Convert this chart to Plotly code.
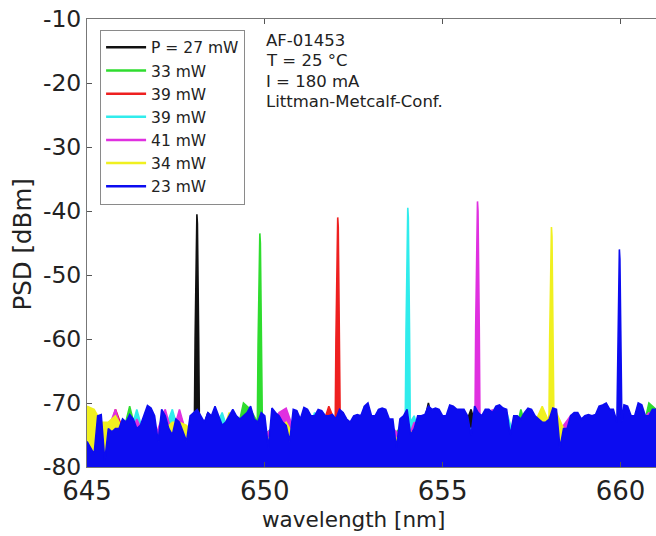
import plotly.graph_objects as go

# ---------------- data ----------------
WL_START = 645.0          # nm, first sample of every noise record
BLUE_STEP = 0.1           # nm, sample spacing of the 23 mW record
OTHER_STEP = 0.2          # nm, sample spacing of the other records

labels = ["P = 27 mW", "33 mW", "39 mW", "39 mW", "41 mW", "34 mW", "23 mW"]
colors = ["#111111", "#2fdc2f", "#ee2020", "#30ecec", "#e030e0", "#f0f020", "#0c0cf0"]

# noise floor of each record [dBm]
black_noise = [
    -76, -75, -74, -76, -75, -74, -76, -75, -74, -76,
    -75, -74, -76, -75, -74, -76, -75, -71.5, -76, -75,
    -74, -76, -75, -74, -76, -75, -74, -76, -75, -74,
    -76, -75, -74, -76, -75, -74, -71.5, -76, -75, -74,
    -76, -75, -74, -76, -75, -74, -76, -75, -70, -75,
    -74, -76, -75, -74, -71, -75, -74, -76, -75, -74,
    -76, -75, -74, -76, -75, -74, -76, -75, -74, -76,
    -75, -74, -76, -75, -71.5, -74, -76, -75, -74, -76,
    -75]
green_noise = [
    -75, -76, -74, -75, -76, -75, -70.5, -75, -76, -74,
    -75, -71.5, -76, -75, -74, -76, -75, -74, -76, -75,
    -74, -75, -70, -71, -76, -75, -74, -76, -75, -74,
    -76, -75, -74, -76, -75, -74, -76, -75, -74, -76,
    -75, -71, -76, -75, -74, -76, -75, -74, -76, -75,
    -74, -76, -75, -74, -76, -75, -74, -76, -75, -74,
    -76, -71, -75, -74, -76, -75, -74, -76, -75, -74,
    -76, -75, -71, -74, -76, -75, -74, -76, -75, -70,
    -71]
red_noise = [
    -76, -75, -74, -75, -71, -74, -76, -75, -74, -75,
    -76, -74, -75, -71.5, -75, -74, -76, -75, -74, -76,
    -75, -74, -76, -75, -74, -76, -75, -74, -76, -75,
    -74, -76, -75, -74, -70.5, -75, -71.5, -76, -75, -74,
    -76, -75, -74, -76, -75, -74, -76, -75, -74, -76,
    -75, -74, -76, -75, -74, -76, -75, -74, -76, -75,
    -74, -76, -75, -74, -76, -72, -75, -74, -76, -75,
    -72.5, -76, -75, -74, -76, -75, -74, -76, -75, -74,
    -76]
cyan_noise = [
    -75, -76, -74, -75, -76, -74, -75, -71, -75, -76,
    -75, -74, -71, -75, -76, -74, -75, -76, -74, -71.5,
    -75, -76, -74, -75, -76, -75, -74, -76, -75, -74,
    -76, -75, -71.5, -75, -74, -76, -75, -74, -76, -70.5,
    -74, -76, -75, -74, -76, -75, -72, -76, -75, -74,
    -76, -75, -74, -76, -74, -75, -76, -74, -75, -71.5,
    -75, -74, -71.5, -75, -76, -74, -75, -76, -74, -75,
    -76, -74, -75, -76, -74, -75, -76, -74, -75, -76,
    -74]
magenta_noise = [
    -75, -74, -75, -74, -71, -75, -76, -72.5, -75, -76,
    -74, -71, -75, -71, -75, -76, -73, -72.5, -75, -74,
    -75, -76, -75, -74, -76, -75, -74, -71.5, -70.8, -74,
    -76, -75, -74, -76, -75, -74, -75, -73, -72, -75,
    -74, -75, -76, -74, -75, -76, -73, -75, -74, -76,
    -75, -74, -76, -73, -75, -76, -74, -71, -75, -74,
    -76, -75, -74, -76, -75, -74, -76, -73.5, -72, -73,
    -75, -72, -76, -75, -74, -76, -75, -74, -73, -71.5,
    -75]
yellow_noise = [
    -70.5, -71, -73, -73, -72, -74, -75, -75, -74, -76,
    -75, -74, -73, -73, -73.5, -75, -76, -74, -72.5, -75,
    -71.5, -75, -76, -74, -75, -76, -75, -74, -73, -75,
    -76, -75, -74, -76, -75, -74, -75, -76, -75, -74,
    -76, -75, -74, -75, -76, -74, -75, -76, -75, -74,
    -76, -75, -74, -72.5, -75, -76, -75, -74, -76, -75,
    -75, -74, -76, -73, -70.5, -71, -71.5, -74, -75, -76,
    -75, -74, -76, -75, -74, -73, -75, -76, -75, -74,
    -75]
blue_noise = [
    -76, -77, -78, -72, -71.8, -79, -74, -74.5, -74, -74,
    -72.5, -73, -71.8, -72.5, -74, -73.5, -72, -70.4, -70.8, -72,
    -76, -71, -72, -74, -75, -72.5, -73, -74.5, -76, -72,
    -71.5, -71, -72, -73, -71.5, -72, -70.5, -72, -73.5, -73,
    -72, -71, -72, -72.5, -72, -71.5, -70.5, -72.5, -73, -71.5,
    -72, -77, -70.8, -71.5, -72, -73, -73.5, -76, -71, -71.2,
    -72.5, -70.7, -71, -72, -72, -71, -71.2, -72, -72, -71.8,
    -72.5, -71, -71.5, -72.5, -73, -72, -71.8, -72, -70.5, -70,
    -72, -72, -71, -70.8, -71, -72.5, -72.5, -77, -72.5, -72,
    -71, -75, -74, -72, -72, -71.8, -70.5, -71, -70.8, -71,
    -72, -72, -70.3, -70.5, -71, -71, -71, -72, -75, -70.5,
    -71.5, -72, -71, -71, -71.5, -70.5, -70.3, -70.8, -71, -75,
    -72, -72, -72.5, -71.5, -70.8, -71, -72, -72.5, -73, -73,
    -72.5, -70.8, -71, -77, -74, -74, -72, -71.5, -71.5, -72.5,
    -72, -71.8, -72, -71.8, -70.5, -70.3, -70, -71, -71, -71.5,
    -72, -70.3, -70.5, -72, -72, -70, -70.3, -72, -72, -71,
    -71]

# laser lines: wavelength [nm] / level [dBm]
black_peak_x = [648.02, 648.04, 648.06, 648.075, 648.09, 648.105, 648.12, 648.14, 648.16]
black_peak_y = [-73, -60, -48, -42, -40.5, -42, -48, -60, -73]
green_peak_x = [649.79, 649.81, 649.83, 649.845, 649.86, 649.875, 649.89, 649.91, 649.93]
green_peak_y = [-73, -61, -51, -45, -43.5, -45, -51, -61, -73]
red_peak_x = [651.98, 652.00, 652.02, 652.035, 652.05, 652.065, 652.08, 652.10, 652.12]
red_peak_y = [-73, -60, -49, -42.5, -41, -42.5, -49, -60, -73]
cyan_peak_x = [653.95, 653.97, 653.99, 654.005, 654.02, 654.035, 654.05, 654.07, 654.09]
cyan_peak_y = [-73, -59, -47, -41, -39.5, -41, -47, -59, -73]
magenta_peak_x = [655.91, 655.93, 655.95, 655.965, 655.98, 655.995, 656.01, 656.03, 656.05]
magenta_peak_y = [-73, -58, -46, -40, -38.5, -40, -46, -58, -73]
yellow_peak_x = [657.99, 658.01, 658.03, 658.045, 658.06, 658.075, 658.09, 658.11, 658.13]
yellow_peak_y = [-73, -60, -50, -44, -42.5, -44, -50, -60, -73]
blue_peak_x = [659.90, 659.92, 659.94, 659.955, 659.97, 659.985, 660.00, 660.02, 660.04]
blue_peak_y = [-73, -62, -53, -47.5, -46, -47.5, -53, -62, -73]

info_lines = ["AF-01453", "T = 25 °C", "I = 180 mA", "Littman-Metcalf-Conf."]

X_RANGE = [645, 661]
Y_RANGE = [-80, -10]
x_ticks = [645, 650, 655, 660]
y_ticks = [-80, -70, -60, -50, -40, -30, -20, -10]

# ---------------- build figure ----------------
records = [
    (black_noise, OTHER_STEP, black_peak_x, black_peak_y),
    (green_noise, OTHER_STEP, green_peak_x, green_peak_y),
    (red_noise, OTHER_STEP, red_peak_x, red_peak_y),
    (cyan_noise, OTHER_STEP, cyan_peak_x, cyan_peak_y),
    (magenta_noise, OTHER_STEP, magenta_peak_x, magenta_peak_y),
    (yellow_noise, OTHER_STEP, yellow_peak_x, yellow_peak_y),
    (blue_noise, BLUE_STEP, blue_peak_x, blue_peak_y),
]

FONT = "DejaVu Sans"
fig = go.Figure()

for (noise, step, px, py), col in zip(records, colors):
    xs = [round(WL_START + i * step, 3) for i in range(len(noise))]
    pts = [(x, y) for x, y in zip(xs, noise) if x < px[0] or x > px[-1]]
    pts += list(zip(px, py))
    pts.sort()
    # floor (bottom of the axis) to fill down to
    fig.add_trace(go.Scatter(x=[X_RANGE[0], X_RANGE[1]], y=[Y_RANGE[0], Y_RANGE[0]],
                             mode="lines", line=dict(width=0, color=col),
                             showlegend=False, hoverinfo="skip"))
    fig.add_trace(go.Scatter(x=[p[0] for p in pts], y=[p[1] for p in pts],
                             mode="lines", line=dict(color=col, width=1.6),
                             fill="tonexty", fillcolor=col,
                             showlegend=False))

# legend entries (line samples only)
for lab, col in zip(labels, colors):
    fig.add_trace(go.Scatter(x=[None], y=[None], mode="lines", name=lab,
                             line=dict(color=col, width=2.5)))

info_y = [0.953, 0.908, 0.861, 0.815]
for txt, yy in zip(info_lines, info_y):
    fig.add_annotation(text=txt, xref="paper", yref="paper", x=0.311, y=yy,
                       xanchor="left", yanchor="middle", showarrow=False,
                       font=dict(family=FONT, size=16.5, color="#222222"))

fig.add_annotation(text="wavelength [nm]", xref="paper", yref="paper",
                   x=0.469, y=-0.117, xanchor="center", yanchor="middle",
                   showarrow=False, font=dict(family=FONT, size=21.5, color="#222222"))
fig.add_annotation(text="PSD [dBm]", xref="paper", yref="paper",
                   x=-0.114, y=0.497, xanchor="center", yanchor="middle",
                   textangle=-90, showarrow=False,
                   font=dict(family=FONT, size=24.5, color="#222222"))

fig.update_layout(
    width=656, height=536,
    margin=dict(l=87, r=0, t=19, b=69),
    paper_bgcolor="white", plot_bgcolor="white",
    font=dict(family=FONT, color="#222222"),
    showlegend=True,
    legend=dict(x=0.023, y=0.976, xanchor="left", yanchor="top",
                traceorder="normal",
                bgcolor="white", bordercolor="#8a8a8a", borderwidth=1,
                font=dict(family=FONT, size=15.5, color="#222222"),
                itemwidth=40, tracegroupgap=0),
    xaxis=dict(range=X_RANGE, tickvals=x_ticks, ticktext=[str(v) for v in x_ticks],
               ticks="inside", ticklen=5, tickcolor="#555555",
               showline=True, linecolor="#777777", linewidth=1, mirror="ticks",
               showgrid=False, zeroline=False, automargin=False,
               ticklabelstandoff=1,
               tickfont=dict(family=FONT, size=26, color="#222222")),
    yaxis=dict(range=Y_RANGE, tickvals=y_ticks, ticktext=[str(v) for v in y_ticks],
               ticks="inside", ticklen=5, tickcolor="#555555",
               showline=True, linecolor="#777777", linewidth=1,
               showgrid=False, zeroline=False, automargin=False,
               tickfont=dict(family=FONT, size=23.5, color="#222222")),
)

fig.write_html("out.html", config={"displayModeBar": False},
               post_script="document.body.style.margin='0px';")
